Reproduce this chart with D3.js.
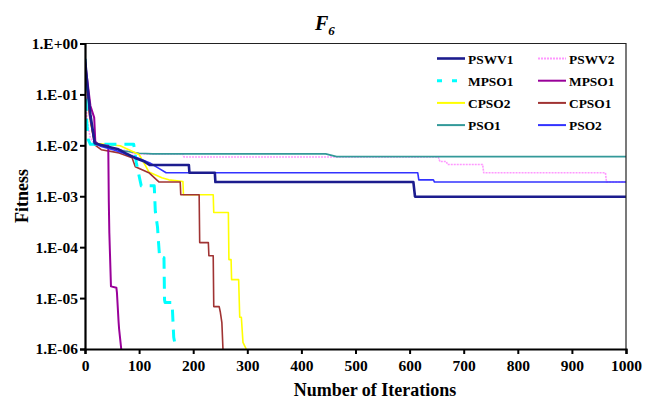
<!DOCTYPE html>
<html><head><meta charset="utf-8">
<script src="https://cdn.jsdelivr.net/npm/d3@7"></script>
<style>
html,body{margin:0;padding:0;background:#fff;}
svg text{font-family:"Liberation Serif","Times New Roman",serif;font-weight:bold;fill:#000;}
</style></head>
<body><svg id="chart" width="647" height="401"></svg>
<script>
// ---- data ----
const xTicks = [0,100,200,300,400,500,600,700,800,900,1000];
const yTicks = [1,1e-1,1e-2,1e-3,1e-4,1e-5,1e-6];
const yTickLabels = ["1.E+00","1.E-01","1.E-02","1.E-03","1.E-04","1.E-05","1.E-06"];
const legendNames = ["PSWV1","PSWV2","MPSO1","MPSO1","CPSO2","CPSO1","PSO1","PSO2"];

const pswv1Iter = [0,5,10,18,40,60,75,95,110,120,192,193,240,241,607,610,1000];
const pswv1Fit  = [0.5,0.13,0.04,0.011,0.0095,0.0085,0.007,0.0055,0.0048,0.0041,0.0041,0.0029,0.0029,0.0019,0.0019,0.00098,0.00098];

const pswv2Iter = [0,3,6,10,18,50,85,89,181,183,653,656,668,670,735,737,962,964,1000];
const pswv2Fit  = [0.3,0.04,0.022,0.014,0.0105,0.009,0.0075,0.0068,0.0068,0.0059,0.0059,0.0048,0.0048,0.0042,0.0042,0.0029,0.0029,0.0019,0.0019];

const mpso1aIter = [0,3,6,10,90,95,100,104,128,130,134,136,138,146,147,148,161,164,168];
const mpso1aFit  = [0.5,0.03,0.013,0.0105,0.0105,0.0045,0.0025,0.0016,0.0016,0.0005,0.00025,0.00012,0.000062,0.000062,0.0000093,0.0000082,0.0000082,0.0000017,0.000001];

const mpso1bIter = [0,10,17,19,25,43,44,45,48,58,59,62,63,67];
const mpso1bFit  = [0.45,0.06,0.035,0.012,0.0102,0.0098,0.0008,0.00019,0.000017,0.000016,0.000013,0.0000035,0.0000025,0.000001];

const cpso2Iter = [0,5,10,18,65,100,109,118,142,155,181,182,237,238,265,266,270,271,284,286,289,292,298];
const cpso2Fit  = [0.45,0.12,0.03,0.011,0.0098,0.0066,0.0045,0.003,0.0023,0.0021,0.00195,0.00107,0.00107,0.00048,0.00048,0.000057,0.000057,0.000023,0.000023,0.0000042,0.0000042,0.00000135,0.000001];

const cpso1Iter = [0,8,18,30,63,87,93,118,137,176,177,211,212,228,229,237,238,248,250,253,255];
const cpso1Fit  = [0.45,0.04,0.0102,0.0082,0.0071,0.0057,0.0038,0.0029,0.0019,0.0019,0.00107,0.00107,0.000123,0.000123,0.000068,0.000068,0.0000068,0.0000068,0.0000054,0.0000033,0.000001];

const pso1Iter = [0,5,12,18,40,70,100,125,445,465,1000];
const pso1Fit  = [0.45,0.12,0.025,0.011,0.0095,0.0078,0.007,0.0068,0.0068,0.006,0.006];

const pso2Iter = [0,5,10,18,30,55,80,100,120,135,150,615,617,644,646,1000];
const pso2Fit  = [0.5,0.12,0.035,0.011,0.0095,0.008,0.0065,0.0055,0.0045,0.0036,0.0029,0.0029,0.0021,0.0021,0.0019,0.0019];

// ---- chart ----
const W = 647, H = 401;
const m = {left:85, right:21, top:43.5, bottom:52};
const svg = d3.select("#chart");
const x = d3.scaleLinear().domain([0,1000]).range([m.left, W-m.right]);
const y = d3.scaleLog().domain([1e-6,1]).range([H-m.bottom, m.top]);

const styles = {
  PSWV1:{color:"#1c1c8e",width:2.6,dash:null},
  PSWV2:{color:"#ff99ff",width:1.6,dash:"2,1"},
  MPSO1a:{color:"#00ffff",width:3,dash:"12,8"},
  MPSO1b:{color:"#990099",width:2,dash:null},
  CPSO2:{color:"#ffff00",width:1.6,dash:null},
  CPSO1:{color:"#a03333",width:1.6,dash:null},
  PSO1:{color:"#339999",width:1.6,dash:null},
  PSO2:{color:"#3333ff",width:1.6,dash:null}
};
const series = [
  {key:"PSWV2", it:pswv2Iter, f:pswv2Fit},
  {key:"PSO1", it:pso1Iter, f:pso1Fit},
  {key:"CPSO2", it:cpso2Iter, f:cpso2Fit},
  {key:"CPSO1", it:cpso1Iter, f:cpso1Fit},
  {key:"MPSO1a", it:mpso1aIter, f:mpso1aFit},
  {key:"MPSO1b", it:mpso1bIter, f:mpso1bFit},
  {key:"PSO2", it:pso2Iter, f:pso2Fit},
  {key:"PSWV1", it:pswv1Iter, f:pswv1Fit}
];

svg.append("defs").append("clipPath").attr("id","clip").append("rect")
  .attr("x",m.left).attr("y",m.top).attr("width",W-m.left-m.right).attr("height",H-m.top-m.bottom);

const line = d3.line().x(d=>x(d[0])).y(d=>y(d[1]));
const g = svg.append("g").attr("clip-path","url(#clip)");
series.forEach(s=>{
  const st = styles[s.key];
  g.append("path").datum(s.it.map((v,i)=>[v,s.f[i]]))
    .attr("d",line).attr("fill","none")
    .attr("stroke",st.color).attr("stroke-width",st.width)
    .attr("stroke-dasharray",st.dash).attr("stroke-linejoin","round");
});

// frame (top & right)
svg.append("path").attr("d",`M${m.left},${m.top}H${W-m.right}V${H-m.bottom}`)
  .attr("fill","none").attr("stroke","#222").attr("stroke-width",1.2);

// axes
const xAxis = d3.axisBottom(x).tickValues(xTicks).tickSize(5).tickPadding(6).tickFormat(d3.format("d"));
const gx = svg.append("g").attr("transform",`translate(0,${H-m.bottom})`).call(xAxis);
const yAxis = d3.axisLeft(y).tickValues(yTicks).tickSize(5).tickPadding(2).tickFormat((d,i)=>yTickLabels[i]);
const gy = svg.append("g").attr("transform",`translate(${m.left},0)`).call(yAxis);
[gx,gy].forEach(a=>{
  a.select(".domain").attr("stroke","#000").attr("stroke-width",2.2);
  a.selectAll(".tick line").attr("stroke","#000").attr("stroke-width",2);
  a.selectAll("text").attr("font-size",15.5).attr("font-family","Liberation Serif").attr("font-weight","bold").attr("fill","#000");
});

// titles
svg.append("text").attr("x",375).attr("y",396).attr("text-anchor","middle")
  .attr("font-size",18).text("Number of Iterations");
svg.append("text").attr("transform",`translate(28,196) rotate(-90)`).attr("text-anchor","middle")
  .attr("font-size",18).text("Fitness");
const t = svg.append("text").attr("x",315).attr("y",30).attr("font-size",20).attr("font-style","italic");
t.append("tspan").text("F");
t.append("tspan").attr("font-size",13).attr("dy",5).text("6");

// legend
const legendKeys = ["PSWV1","PSWV2","MPSO1a","MPSO1b","CPSO2","CPSO1","PSO1","PSO2"];
const leg = svg.append("g");
legendKeys.forEach((k,i)=>{
  const col = i%2, row = Math.floor(i/2);
  const lx = col===0 ? 437 : 538;
  const ly = 58.5 + row*22.2;
  const st = styles[k];
  leg.append("line").attr("x1",lx).attr("x2",lx+28).attr("y1",ly).attr("y2",ly)
    .attr("stroke",st.color).attr("stroke-width",k==="MPSO1a"?3:(k==="PSWV1"?2.6:2))
    .attr("stroke-dasharray",k==="MPSO1a"?"5,10":st.dash);
  leg.append("text").attr("x",lx+31).attr("y",ly+5).attr("font-size",13.4).text(legendNames[i]);
});
</script></body></html>
